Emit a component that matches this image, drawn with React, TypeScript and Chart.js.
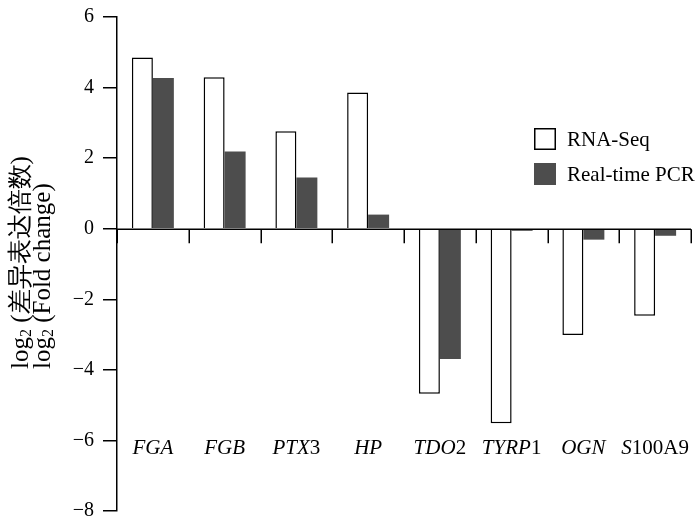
import React, { useEffect, useRef } from 'react';
import { Chart, registerables } from 'chart.js';

Chart.register(...registerables);

const categories = ['FGA', 'FGB', 'PTX3', 'HP', 'TDO2', 'TYRP1', 'OGN', 'S100A9'];
const rnaSeq = [4.85, 4.29, 2.76, 3.86, -4.68, -5.51, -3.01, -2.47];
const realTimePCR = [4.27, 2.19, 1.45, 0.4, -3.69, -0.06, -0.31, -0.2];
const seriesNames = ['RNA-Seq', 'Real-time PCR'];
const yMin = -8;
const yMax = 6;
const yStep = 2;
const yTitleLines = [
  ['log', '2', ' (差异表达倍数)'],
  ['log', '2', ' (Fold change)'],
];

const SERIF = '"Liberation Serif", serif';
const DARK = '#4d4d4d';

Chart.defaults.font.family = SERIF;

const decorPlugin = {
  id: 'decor',
  afterDraw(chart: any) {
    const ctx = chart.ctx as CanvasRenderingContext2D;
    const area = chart.chartArea;
    const xs = chart.scales.x;
    const ys = chart.scales.y;
    ctx.save();
    ctx.fillStyle = '#000';

    // x axis at zero with downward ticks at category boundaries
    const y0 = Math.round(ys.getPixelForValue(0)) + 0.25;
    ctx.strokeStyle = '#000';
    ctx.lineWidth = 1.5;
    ctx.beginPath();
    ctx.moveTo(area.left, y0);
    ctx.lineTo(area.right, y0);
    for (let i = 0; i <= categories.length; i++) {
      const x = Math.round(xs.getPixelForValue(i - 0.5)) + 0.25;
      ctx.moveTo(x, y0);
      ctx.lineTo(x, y0 + 14);
    }
    ctx.stroke();

    // category labels: italic gene letters, upright trailing part
    ctx.textBaseline = 'alphabetic';
    ctx.textAlign = 'left';
    categories.forEach((c, i) => {
      const m = c.match(/^(\D+)(.*)$/);
      const it = m ? m[1] : c;
      const rg = m ? m[2] : '';
      ctx.font = 'italic 21px ' + SERIF;
      const w1 = ctx.measureText(it).width;
      ctx.font = '21px ' + SERIF;
      const w2 = ctx.measureText(rg).width;
      const cx = xs.getPixelForValue(i);
      const x = cx - (w1 + w2) / 2;
      const y = area.bottom - 57;
      ctx.font = 'italic 21px ' + SERIF;
      ctx.fillText(it, x, y);
      ctx.font = '21px ' + SERIF;
      ctx.fillText(rg, x + w1, y);
    });

    // legend
    const lx = area.right - 157;
    const ly = area.top + 111;
    chart.data.datasets.forEach((ds: any, i: number) => {
      const by = ly + i * 35;
      ctx.fillStyle = ds.backgroundColor;
      ctx.fillRect(lx, by, 22, 22);
      if (ds.borderWidth) {
        ctx.strokeStyle = ds.borderColor;
        ctx.lineWidth = 1.5;
        ctx.strokeRect(lx + 0.75, by + 0.75, 20.5, 20.5);
      }
      ctx.fillStyle = '#000';
      ctx.font = '21px ' + SERIF;
      ctx.textBaseline = 'middle';
      ctx.fillText(ds.label, lx + 33, by + 12);
    });

    // y axis title (two lines, rotated, with subscripts)
    const starts = [area.left - 96, area.left - 74];
    yTitleLines.forEach((parts, li) => {
      ctx.save();
      ctx.translate(starts[li], area.bottom - 142);
      ctx.rotate(-Math.PI / 2);
      ctx.textBaseline = 'middle';
      ctx.textAlign = 'left';
      ctx.fillStyle = '#000';
      let x = 0;
      ctx.font = '25px ' + SERIF;
      ctx.fillText(parts[0], x, 0);
      x += ctx.measureText(parts[0]).width;
      ctx.font = '16px ' + SERIF;
      ctx.fillText(parts[1], x, 6);
      x += ctx.measureText(parts[1]).width;
      ctx.font = '25px ' + SERIF;
      ctx.fillText(parts[2], x, 0);
      ctx.restore();
    });

    ctx.restore();
  },
};

export default function App() {
  const ref = useRef<HTMLCanvasElement>(null);
  useEffect(() => {
    if (!ref.current) return;
    const chart = new Chart(ref.current, {
      type: 'bar',
      data: {
        labels: categories,
        datasets: [
          {
            label: seriesNames[0],
            data: rnaSeq,
            backgroundColor: '#ffffff',
            borderColor: '#000000',
            borderWidth: 1.5,
            categoryPercentage: 0.585,
            barPercentage: 1,
          },
          {
            label: seriesNames[1],
            data: realTimePCR,
            backgroundColor: DARK,
            borderWidth: 0,
            categoryPercentage: 0.585,
            barPercentage: 1,
          },
        ],
      },
      options: {
        animation: false,
        responsive: true,
        maintainAspectRatio: false,
        layout: { padding: { left: 0, top: 17, right: 7, bottom: 0 } },
        plugins: {
          legend: { display: false },
          tooltip: { enabled: false },
        },
        scales: {
          x: {
            type: 'category',
            display: false,
            offset: true,
          },
          y: {
            min: yMin,
            max: yMax,
            afterFit: (scale: any) => {
              scale.width = 117;
            },
            ticks: {
              stepSize: yStep,
              color: '#000',
              padding: 9,
              font: { family: SERIF, size: 20, lineHeight: 0.8 },
              callback: (v: any) => (Number(v) < 0 ? '\u2212' + Math.abs(Number(v)) : String(v)),
            },
            grid: {
              drawOnChartArea: false,
              drawTicks: true,
              tickLength: 14,
              color: '#000',
              lineWidth: 1.5,
            },
            border: { display: true, color: '#000', width: 1.5 },
          },
        },
      },
      plugins: [decorPlugin],
    });
    return () => chart.destroy();
  }, []);
  return (
    <div style={{ position: 'absolute', left: 0, top: 0, width: 698, height: 519, overflow: 'hidden' }}>
      <div style={{ position: 'relative', width: 698, height: 528 }}>
        <canvas ref={ref} />
      </div>
    </div>
  );
}
